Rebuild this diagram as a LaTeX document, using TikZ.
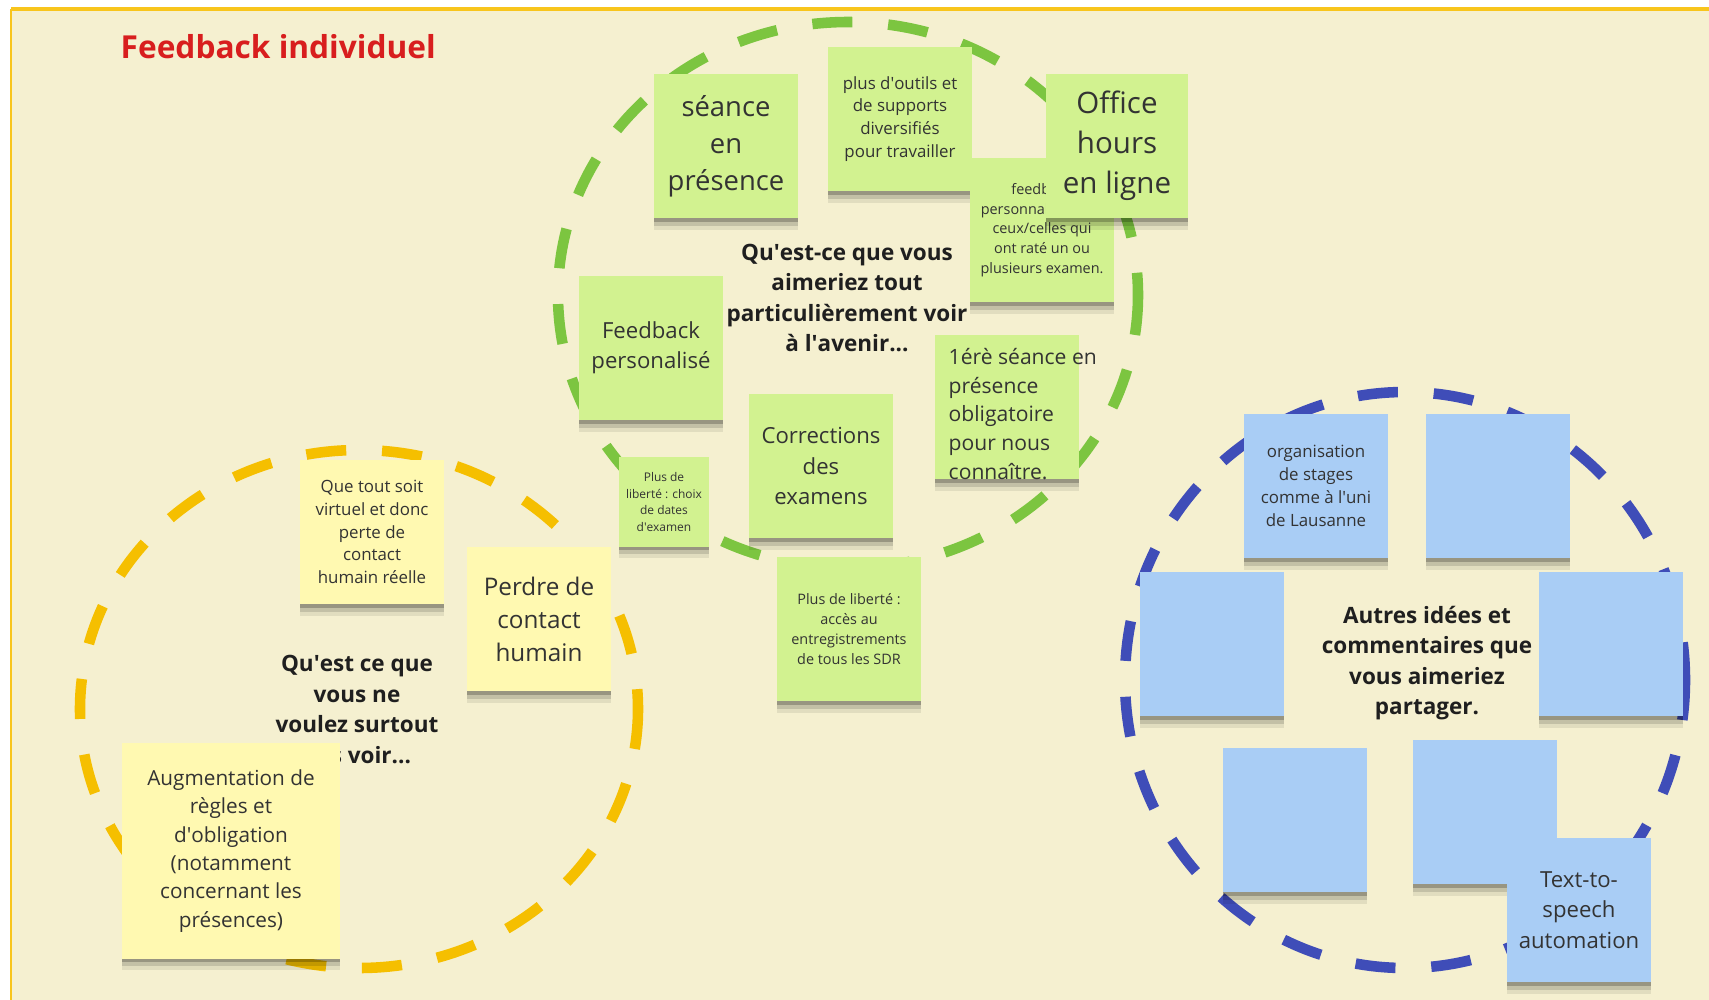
\documentclass[tikz,border=0pt]{standalone}
\usepackage{fontspec}
\setmainfont{Open Sans}
\definecolor{cream}{HTML}{F5F0D0}
\definecolor{frameyellow}{HTML}{F8C51C}
\definecolor{titlered}{HTML}{D81E1E}
\definecolor{greenline}{HTML}{7CC540}
\definecolor{yellowline}{HTML}{F5BF00}
\definecolor{blueline}{HTML}{3F4DB8}
\definecolor{greenfill}{HTML}{D2F290}
\definecolor{yellowfill}{HTML}{FFF9B1}
\definecolor{bluefill}{HTML}{A9CDF5}
\definecolor{notetext}{HTML}{333333}
\definecolor{qtext}{HTML}{1F1F1F}
\newcommand{\apos}{\textquotesingle}
\begin{document}
\begin{tikzpicture}[x=0.01cm,y=-0.01cm,
  ring/.style={line width=3pt,dash pattern=on 11.4pt off 10.2pt},
  note/.style={rectangle,inner sep=0pt,minimum width=1.44cm,minimum height=1.44cm,align=center,text=notetext,
    preaction={fill=black,opacity=.08,transform canvas={yshift=-3.3pt}},
    preaction={fill=black,opacity=.13,transform canvas={yshift=-2.2pt}},
    preaction={fill=black,opacity=.22,transform canvas={yshift=-1.1pt}}},
  gnote/.style={note,fill=greenfill},
  ynote/.style={note,fill=yellowfill},
  bnote/.style={note,fill=bluefill},
  question/.style={align=center,text=qtext,font=\bfseries\fontsize{6.4}{8.7}\selectfont},
  fxxs/.style={font=\fontsize{3.4}{4.65}\selectfont},
  fxs/.style={font=\fontsize{4.1}{5.6}\selectfont},
  fs/.style={font=\fontsize{4.8}{6.5}\selectfont},
  fm/.style={font=\fontsize{6.3}{8.6}\selectfont},
  fl/.style={font=\fontsize{7.8}{10.5}\selectfont},
  fxl/.style={font=\fontsize{8.4}{11.4}\selectfont}]
\useasboundingbox (0,0) rectangle (1709,1000);
\fill[white] (0,0) rectangle (1709,1000);
\fill[cream] (11,9) rectangle (1709,1000);
\draw[frameyellow,line width=1pt] (11,9) -- (1709,9);
\draw[frameyellow,line width=0.5pt] (11,9) -- (11,1000);
\node[anchor=base west,inner sep=0pt,text=titlered,font=\bfseries\fontsize{9}{11}\selectfont](title) at (120,58) {Feedback individuel};

\draw[ring,greenline] (848,295) ellipse [x radius=290, y radius=273];
\draw[ring,yellowline] (359,709) ellipse [x radius=279, y radius=259];
\draw[ring,blueline] (1405,680) ellipse [x radius=280, y radius=288];

\node[question](qgreen) at (847,298) {Qu\apos est-ce que vous\\aimeriez tout\\particulièrement voir\\à l\apos avenir...};
\node[question](qyellow) at (357,712) {Qu\apos est ce que\\vous ne\\voulez surtout\\pas voir...};
\node[question](qblue) at (1427,663) {Autres idées et\\commentaires que\\vous aimeriez\\partager.};

\node[gnote,fl](seance) at (726,146) {séance\\en\\présence};
\node[gnote,fs](outils) at (900,119) {plus d\apos outils et\\de supports\\diversifiés\\pour travailler};
\node[gnote,fxs](perso) at (1042,230) {feedback\\personnalisé pour\\ceux/celles qui\\ont raté un ou\\plusieurs examen.};
\node[gnote,fxl,minimum width=1.42cm](office) at (1117,146) {Office\\hours\\en ligne};
\node[gnote,fm](feedback) at (651,348) {Feedback\\personalisé};
\node[gnote](premiere) at (1007,407) {};
\node[anchor=west,align=left,inner sep=0pt,text=notetext,font=\fontsize{6.0}{8.2}\selectfont](premtext) at (948,414) {1érè séance en\\présence\\obligatoire\\pour nous\\connaître.};
\node[gnote,fxxs,minimum width=0.9cm,minimum height=0.89cm](choix) at (664,502) {Plus de\\liberté : choix\\de dates\\d\apos examen};
\node[gnote,fm](corrections) at (821,466) {Corrections\\des\\examens};
\node[gnote,fxs](acces) at (849,629) {Plus de liberté :\\accès au\\entregistrements\\de tous les SDR};

\node[ynote,fs](virtuel) at (372,532) {Que tout soit\\virtuel et donc\\perte de\\contact\\humain réelle};
\node[ynote,font=\fontsize{6.9}{9.4}\selectfont](perdre) at (539,619) {Perdre de\\contact\\humain};
\node[ynote,font=\fontsize{5.9}{8.05}\selectfont,minimum width=2.17cm,minimum height=2.15cm](regles) at (231,851) {Augmentation de\\règles et\\d\apos obligation\\(notamment\\concernant les\\présences)};

\node[bnote,fs](stages) at (1316,486) {organisation\\de stages\\comme à l\apos uni\\de Lausanne};
\node[bnote](blue2) at (1498,486) {};
\node[bnote](blue3) at (1212,644) {};
\node[bnote](blue4) at (1611,644) {};
\node[bnote](blue5) at (1295,820) {};
\node[bnote](blue6) at (1485,812) {};
\node[bnote,fm](speech) at (1579,910) {Text-to-\\speech\\automation};
\end{tikzpicture}
\end{document}
